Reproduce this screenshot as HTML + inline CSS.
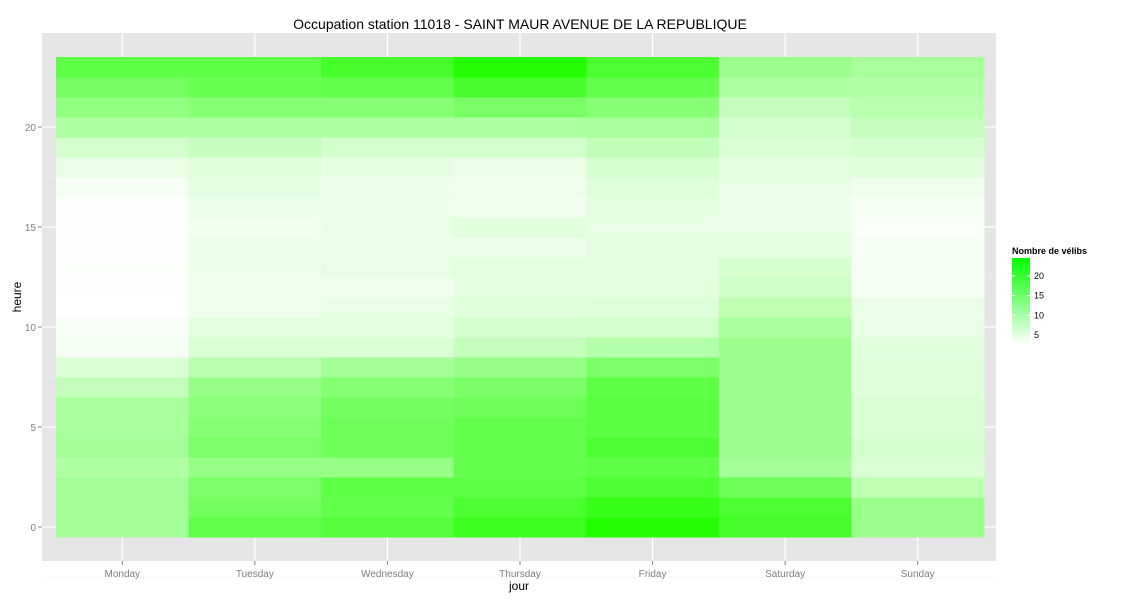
<!DOCTYPE html>
<html><head><meta charset="utf-8"><style>
body{margin:0;background:#fff;font-family:"Liberation Sans",Arial,sans-serif}
</style></head><body>
<svg id="chart" width="1125" height="600" xmlns="http://www.w3.org/2000/svg">
<rect x="0" y="0" width="1125" height="600" fill="#fff"/>
<text x="520" y="29" font-size="14" text-anchor="middle" fill="#000">Occupation station 11018 - SAINT MAUR AVENUE DE LA REPUBLIQUE</text>
<rect x="42" y="33" width="954" height="528" fill="#e5e5e5"/>
<g id="grid"></g><g id="tiles"></g><g id="axes"></g>
<text x="519" y="590" font-size="12" text-anchor="middle">jour</text>
<text x="21" y="297" font-size="12" text-anchor="middle" transform="rotate(-90 21 297)">heure</text>
<text x="1012" y="254" font-size="9" font-weight="bold">Nombre de vélibs</text>
<defs><linearGradient id="lg" x1="0" y1="1" x2="0" y2="0"><stop offset="0" stop-color="#ffffff"/><stop offset="1" stop-color="#00ff00"/></linearGradient></defs>
<rect x="1012" y="258" width="18" height="87" fill="url(#lg)"/>
<g id="legend"></g>
</svg>
<script>
const days = ["Monday","Tuesday","Wednesday","Thursday","Friday","Saturday","Sunday"];
const yTicks = [0,5,10,15,20];
const legendTicks = [5,10,15,20];
const monday = [10.3,10.3,10.3,9.4,10.3,9.8,9.8,7.7,5.7,3.4,3.1,2.5,2.8,2.9,2.7,2.8,2.7,3.4,4.5,6.4,9.4,12.0,14.3,16.3];
const tuesday = [15.9,14.6,13.7,11.6,13.7,12.9,12.4,11.6,8.5,5.7,4.8,4.0,4.0,4.1,4.1,3.8,4.1,4.7,5.3,7.4,9.4,12.9,15.4,16.3];
const wednesday = [17.2,15.9,16.3,11.6,15.0,15.0,14.6,12.9,10.3,5.7,4.8,4.5,3.8,4.5,4.1,4.5,4.1,4.1,4.7,6.4,9.4,12.9,15.9,18.5];
const thursday = [19.3,18.0,16.3,15.9,15.9,15.9,15.0,14.1,11.6,7.7,6.0,5.1,4.8,4.8,4.1,5.1,3.8,4.0,4.2,6.4,9.4,14.1,18.5,21.5];
const friday = [21.5,19.8,18.0,16.3,18.0,16.7,16.7,16.3,13.7,9.0,6.4,5.3,4.8,4.8,4.8,4.5,4.8,5.3,6.2,7.9,10.0,12.9,15.9,18.0];
const saturday = [18.5,18.0,15.0,10.3,11.1,11.1,11.1,11.1,11.1,11.1,9.8,8.1,6.8,6.0,4.8,4.5,4.3,4.5,4.8,5.7,6.2,7.7,9.4,11.1];
const sunday = [11.1,11.1,8.1,5.7,6.0,5.7,5.7,5.3,5.3,5.1,4.5,4.2,3.4,3.4,3.4,2.9,3.4,4.0,5.1,6.0,7.7,8.5,9.1,10.0];
const series = [monday,tuesday,wednesday,thursday,friday,saturday,sunday];
const vmin = 2.5, vmax = 24.5;
const NS="http://www.w3.org/2000/svg";
const x0=56, colW=(984-56)/days.length;
function xs(i){return x0+i*colW;}
function ys(h){return 527-h*20;}
function col(v){const t=Math.max(0,Math.min(1,(v-vmin)/(vmax-vmin)));const r=Math.round(255*(1-t));const b=Math.max(0,Math.round(r-(255-r)*0.15));return `rgb(${r},255,${b})`;}
function mk(tag,attrs,parent){const e=document.createElementNS(NS,tag);for(const k in attrs)e.setAttribute(k,attrs[k]);document.getElementById(parent).appendChild(e);return e;}
for(let h=-2.5;h<=25;h+=5){const l=mk('line',{x1:42,x2:996,y1:ys(h),y2:ys(h),stroke:'#f2f2f2','stroke-width':0.6},'grid');}
yTicks.forEach(t=>{const l=mk('line',{x1:42,x2:996,y1:ys(t),y2:ys(t),stroke:'#fff','stroke-width':1.2},'grid');
const tx=mk('text',{x:36,y:ys(t)+4,'font-size':10,'text-anchor':'end',fill:'#7f7f7f'},'axes');tx.textContent=t;
mk('line',{x1:38,x2:42,y1:ys(t),y2:ys(t),stroke:'#7f7f7f'},'axes');});
days.forEach((d,i)=>{const cx=xs(i)+colW/2;const l=mk('line',{x1:cx,x2:cx,y1:33,y2:561,stroke:'#fff','stroke-width':1.2},'grid');
const tx=mk('text',{x:cx,y:577,'font-size':10,'text-anchor':'middle',fill:'#7f7f7f'},'axes');tx.textContent=d;
mk('line',{x1:cx,x2:cx,y1:561,y2:565,stroke:'#7f7f7f'},'axes');});
series.forEach((s,i)=>{s.forEach((v,h)=>{const r=mk('rect',{x:xs(i),y:ys(h)-10,width:colW+0.5,height:20.5,fill:col(v)},'tiles');

});});
legendTicks.forEach(t=>{const y=345-(t-vmin)/(vmax-vmin)*87;
mk('line',{x1:1012,x2:1015,y1:y,y2:y,stroke:'#fff'},'legend');mk('line',{x1:1027,x2:1030,y1:y,y2:y,stroke:'#fff'},'legend');
const tx=mk('text',{x:1034,y:y+3,'font-size':9,fill:'#000'},'legend');tx.textContent=t;});
</script>
</body></html>
